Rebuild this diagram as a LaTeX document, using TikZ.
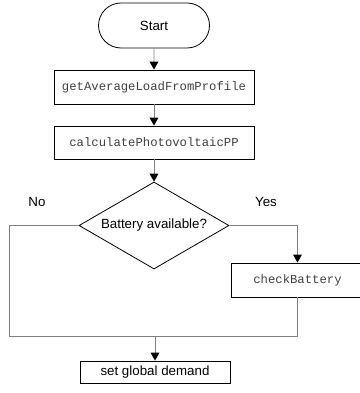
\documentclass[tikz,border=0pt]{standalone}
\usepackage{fontspec}
\setmainfont{Liberation Sans}
\setmonofont{Liberation Mono}
\usetikzlibrary{shapes.geometric,shapes.misc,arrows.meta}
\def\u{0.75pt}
\tikzset{
  block/.style={draw=black, line width=0.6pt, fill=white, inner sep=0pt, font=\fontsize{10}{12}\selectfont},
  codebox/.style={block, font=\fontsize{9.2}{11}\ttfamily, text=black!75},
  term/.style={block, rounded rectangle, minimum width=111*\u, minimum height=45*\u},
  decision/.style={block, diamond, shape aspect=1.72, minimum width=150*\u, minimum height=87*\u},
  flow/.style={draw=black!50, line width=0.7pt},
  arr/.style={flow, -{Triangle[color=black, length=6pt, width=6.5pt]}},
  lbl/.style={font=\fontsize{10}{12}\selectfont}
}
\begin{document}
\begin{tikzpicture}[x=\u, y=-\u]
  \useasboundingbox (0,0) rectangle (360,393);
  \begin{scope}
  \clip (0,0) rectangle (360,393);

  \node[term] (start) at (154,25.5) {Start};
  \node[codebox, minimum width=200*\u, minimum height=34*\u] (avg) at (154,87) {getAverageLoadFromProfile};
  \node[codebox, minimum width=200*\u, minimum height=33*\u] (pv) at (154,142.5) {calculatePhotovoltaicPP};
  \node[decision] (bat) at (154,225.5) {Battery available?};
  \node[codebox, minimum width=133*\u, minimum height=34*\u] (chk) at (297.5,280) {checkBattery};
  \node[block, minimum width=150*\u, minimum height=22*\u] (dem) at (155,372) {set global demand};

  \node[lbl] (no) at (37,202) {No};
  \node[lbl] (yes) at (266,202) {Yes};

  \coordinate (lc) at (9,336);

  \draw[arr] (start) -- (avg);
  \draw[arr] (avg) -- (pv);
  \draw[arr] (pv) -- (bat);
  \draw[arr] (bat.east) -| (chk.north);
  \draw[flow] (bat.west) -| (lc) -- (chk.south |- lc) -- (chk.south);
  \draw[arr] (dem.north |- lc) -- (dem.north);
  \end{scope}
\end{tikzpicture}
\end{document}
